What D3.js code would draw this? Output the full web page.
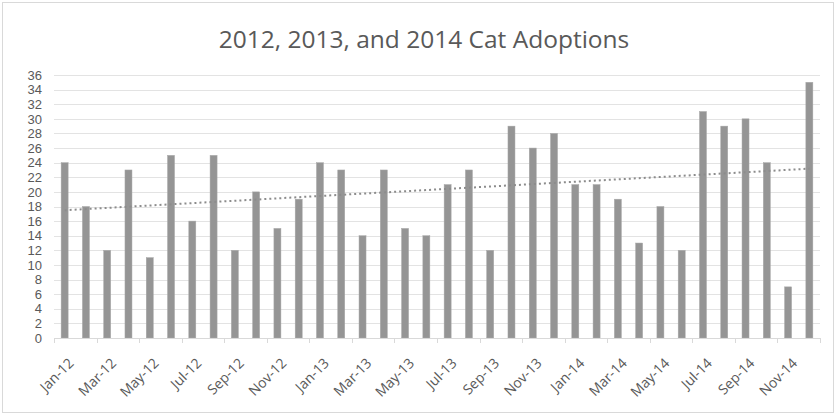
<!DOCTYPE html>
<html><head><meta charset="utf-8">
<script src="https://cdn.jsdelivr.net/npm/d3@7"></script>
<style>body{margin:0;background:#fff}svg{display:block}</style>
</head><body>
<svg id="c" width="837" height="415"></svg>
<script>
const months = ["Jan-12","Feb-12","Mar-12","Apr-12","May-12","Jun-12","Jul-12","Aug-12","Sep-12","Oct-12","Nov-12","Dec-12",
"Jan-13","Feb-13","Mar-13","Apr-13","May-13","Jun-13","Jul-13","Aug-13","Sep-13","Oct-13","Nov-13","Dec-13",
"Jan-14","Feb-14","Mar-14","Apr-14","May-14","Jun-14","Jul-14","Aug-14","Sep-14","Oct-14","Nov-14","Dec-14"];
const adoptions = [24,18,12,23,11,25,16,25,12,20,15,19, 24,23,14,23,15,14,21,23,12,29,26,28, 21,21,19,13,18,12,31,29,30,24,7,35];
const yTicks = [0,2,4,6,8,10,12,14,16,18,20,22,24,26,28,30,32,34,36];
const title = "2012, 2013, and 2014 Cat Adoptions";

const svg = d3.select("#c");
const font = "'Open Sans', sans-serif";
svg.append("rect").attr("x",2.5).attr("y",2.5).attr("width",831).attr("height",410)
  .attr("fill","#fff").attr("stroke","#d9d9d9");

const L=54, R=820, T=75, B=338;
const x = d3.scaleBand().domain(months).range([L,R]).paddingInner(0).paddingOuter(0);
const y = d3.scaleLinear().domain([0,36]).range([B,T]);

svg.append("text").attr("x",424).attr("y",48).attr("text-anchor","middle")
  .attr("font-family",font).attr("font-size",24.5).attr("fill","#595959").text(title);

// grid
svg.append("g").selectAll("line").data(yTicks.filter(d=>d>0)).join("line")
  .attr("x1",L).attr("x2",R).attr("y1",d=>Math.round(y(d))+0.5).attr("y2",d=>Math.round(y(d))+0.5)
  .attr("stroke","#e3e3e3").attr("stroke-width",1);

// y labels
svg.append("g").selectAll("text").data(yTicks).join("text")
  .attr("x",42).attr("y",d=>y(d)).attr("dy","0.36em").attr("text-anchor","end")
  .attr("font-family","'Liberation Sans', Arial, sans-serif").attr("font-size",13).attr("fill","#595959").text(d=>d);

// bars
const bw = 7;
svg.append("g").selectAll("rect").data(adoptions).join("rect")
  .attr("x",(d,i)=>x(months[i])+x.bandwidth()/2-bw/2).attr("width",bw)
  .attr("y",d=>y(d)).attr("height",d=>B-y(d))
  .attr("fill","#959595").attr("stroke","#a8a8a8").attr("stroke-width",0.5);

// x axis
const ax = svg.append("g");
ax.append("line").attr("x1",L).attr("x2",R).attr("y1",B+0.5).attr("y2",B+0.5).attr("stroke","#d9d9d9");
const tickIdx = months.map((m,i)=>i).filter(i=>i%2===0);
ax.selectAll("line.t").data(tickIdx.concat([36])).join("line").attr("class","t")
  .attr("x1",i=>Math.round(L+i*x.step())+0.5).attr("x2",i=>Math.round(L+i*x.step())+0.5)
  .attr("y1",B).attr("y2",B+5).attr("stroke","#d9d9d9");
ax.selectAll("text").data(tickIdx).join("text")
  .attr("transform",i=>`translate(${x(months[i])+x.bandwidth()/2+10},${B+26}) rotate(-45)`)
  .attr("text-anchor","end")
  .attr("font-family",font).attr("font-size",14).attr("fill","#595959").text(i=>months[i]);

// linear trendline
const n = adoptions.length, xs = d3.range(1,n+1);
const mx = d3.mean(xs), my = d3.mean(adoptions);
const slope = d3.sum(xs.map((v,i)=>(v-mx)*(adoptions[i]-my)))/d3.sum(xs.map(v=>(v-mx)**2));
const icpt = my - slope*mx;
const cx = i=>x(months[i])+x.bandwidth()/2;
svg.append("line").attr("x1",cx(0)).attr("x2",cx(n-1))
  .attr("y1",y(icpt+slope*1)).attr("y2",y(icpt+slope*n))
  .attr("stroke","#8c8c8c").attr("stroke-width",2).attr("stroke-dasharray","2,3");
</script>
</body></html>
